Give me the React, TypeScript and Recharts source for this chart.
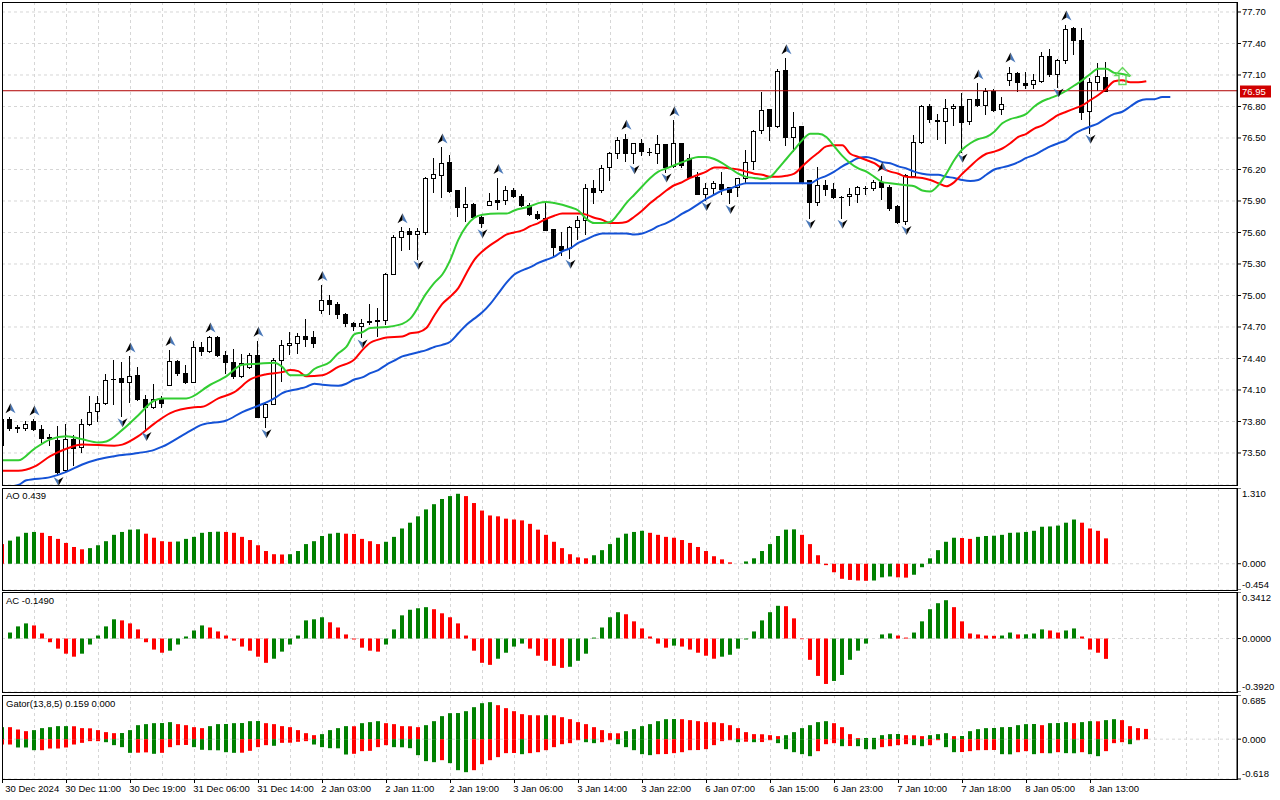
import React from "react";
import {
  ComposedChart,
  Bar,
  Line,
  Scatter,
  XAxis,
  YAxis,
  CartesianGrid,
  ReferenceLine,
} from "recharts";

/* Hourly candles with Alligator, Bill Williams fractals and AO / AC / Gator
 * panes underneath. */

const FONT = '"Liberation Sans", Arial, sans-serif';
const GRID = "#d6d6d6";
const UP_GREEN = "#008000";
const DOWN_RED = "#ff0000";

// ---- candles (bar index 0..138) ----
const opens = [
  73.58, 73.82, 73.74, 73.74, 73.8, 73.73, 73.65, 73.62, 73.34, 73.63,
  73.56, 73.78, 73.9, 73.98, 74.2, 74.21, 74.18, 74.24, 74.01, 73.94,
  74.01, 74.15, 74.38, 74.26, 74.18, 74.51, 74.47, 74.6, 74.43, 74.37,
  74.23, 74.32, 74.43, 73.84, 73.97, 74.39, 74.53, 74.55, 74.61, 74.6,
  74.86, 74.96, 74.92, 74.82, 74.74, 74.71, 74.75, 74.76, 74.77, 75.2,
  75.56, 75.61, 75.59, 75.6, 76.12, 76.15, 76.27, 76.0, 75.84, 75.87,
  75.75, 75.86, 75.91, 75.91, 76.0, 75.95, 75.86, 75.78, 75.74, 75.63,
  75.47, 75.45, 75.65, 75.72, 76.02, 76.0, 76.22, 76.36, 76.49, 76.36,
  76.45, 76.37, 76.36, 76.44, 76.23, 76.45, 76.31, 76.13, 75.97, 76.02,
  76.06, 76.03, 76.03, 76.12, 76.28, 76.58, 76.78, 76.61, 77.15, 76.51,
  76.61, 76.1, 75.89, 76.05, 76.01, 75.94, 75.95, 75.97, 76.02, 76.02,
  76.08, 76.03, 75.85, 75.71, 76.14, 76.46, 76.8, 76.67, 76.66, 76.79,
  76.8, 76.66, 76.87, 76.81, 76.95, 76.78, 77.05, 77.12, 77.02, 77.01,
  77.04, 77.28, 77.11, 77.24, 77.55, 77.43, 76.76, 77.03, 77.08,
];
const highs = [
  73.83, 73.84, 73.77, 73.8, 73.82, 73.77, 73.68, 73.76, 73.78, 73.67,
  73.82, 74.04, 74.04, 74.25, 74.39, 74.37, 74.42, 74.32, 74.05, 74.16,
  74.04, 74.48, 74.39, 74.34, 74.57, 74.56, 74.61, 74.61, 74.47, 74.49,
  74.44, 74.45, 74.57, 73.98, 74.4, 74.58, 74.655, 74.64, 74.78, 74.66,
  75.1, 75.0, 74.94, 74.83, 74.75, 74.78, 74.92, 74.88, 75.21, 75.575,
  75.65, 75.64, 75.64, 76.13, 76.31, 76.41, 76.34, 76.0, 76.03, 75.88,
  75.78, 75.98, 76.12, 76.04, 76.02, 75.97, 75.88, 75.8, 75.88, 75.63,
  75.6, 75.66, 75.76, 76.06, 76.1, 76.24, 76.37, 76.51, 76.54, 76.45,
  76.49, 76.4, 76.53, 76.44, 76.67, 76.45, 76.35, 76.18, 76.07, 76.09,
  76.18, 76.03, 76.12, 76.39, 76.58, 76.94, 76.78, 77.16, 77.26, 76.75,
  76.61, 76.1, 76.22, 76.1, 76.07, 75.95, 76.02, 76.04, 76.04, 76.1,
  76.14, 76.05, 75.86, 76.16, 76.53, 76.81, 76.82, 76.73, 76.87, 76.82,
  76.93, 76.87, 77.02, 76.98, 76.97, 76.89, 77.18, 77.13, 77.13, 77.11,
  77.32, 77.35, 77.25, 77.58, 77.56, 77.55, 77.07, 77.21, 77.22,
];
const lows = [
  73.55, 73.72, 73.7, 73.72, 73.72, 73.6, 73.58, 73.29, 73.32, 73.39,
  73.51, 73.77, 73.8, 73.97, 73.97, 73.85, 73.99, 74.0, 73.72, 73.93,
  73.94, 74.15, 74.24, 74.17, 74.18, 74.43, 74.46, 74.42, 74.26, 74.21,
  74.22, 74.31, 73.84, 73.745, 73.97, 74.19, 74.44, 74.45, 74.52, 74.51,
  74.83, 74.82, 74.79, 74.71, 74.67, 74.6, 74.73, 74.61, 74.73, 75.2,
  75.43, 75.44, 75.35, 75.59, 75.99, 75.94, 75.99, 75.76, 75.71, 75.74,
  75.65, 75.86, 75.82, 75.87, 75.94, 75.85, 75.77, 75.73, 75.62, 75.38,
  75.39, 75.36, 75.54, 75.59, 75.88, 75.99, 76.1, 76.31, 76.28, 76.26,
  76.34, 76.34, 76.26, 76.18, 76.22, 76.22, 76.12, 75.97, 75.91, 75.96,
  75.97, 75.88, 75.95, 76.07, 76.2, 76.55, 76.48, 76.6, 76.43, 76.38,
  76.07, 75.74, 75.86, 75.96, 75.93, 75.74, 75.86, 75.89, 75.97, 76.0,
  75.92, 75.81, 75.69, 75.68, 76.14, 76.45, 76.65, 76.49, 76.45, 76.62,
  76.37, 76.63, 76.8, 76.73, 76.76, 76.73, 77.0, 76.95, 76.98, 76.98,
  77.03, 77.09, 76.99, 77.21, 77.3, 76.68, 76.55, 76.96, 76.95,
];
const closes = [
  73.82, 73.735, 73.745, 73.78, 73.73, 73.64, 73.64, 73.32, 73.63, 73.545,
  73.78, 73.89, 73.98, 74.195, 74.2, 74.18, 74.23, 74.01, 73.935, 74.01,
  73.98, 74.38, 74.265, 74.18, 74.51, 74.47, 74.6, 74.43, 74.37, 74.23,
  74.36, 74.43, 73.84, 73.97, 74.39, 74.53, 74.55, 74.61, 74.59, 74.55,
  74.96, 74.92, 74.82, 74.735, 74.71, 74.74, 74.76, 74.77, 75.205, 75.56,
  75.61, 75.59, 75.61, 76.12, 76.16, 76.26, 75.998, 75.84, 75.87, 75.75,
  75.69, 75.9, 75.89, 76.0, 75.95, 75.86, 75.78, 75.74, 75.62, 75.465,
  75.43, 75.65, 75.72, 76.02, 75.99, 76.21, 76.36, 76.48, 76.36, 76.45,
  76.38, 76.37, 76.44, 76.22, 76.45, 76.24, 76.13, 75.97, 76.02, 76.07,
  76.01, 75.99, 76.12, 76.27, 76.57, 76.77, 76.61, 77.14, 76.51, 76.6,
  76.07, 75.89, 76.05, 76.01, 75.94, 75.94, 75.97, 76.03, 76.02, 76.08,
  76.03, 75.83, 75.7, 76.15, 76.46, 76.8, 76.68, 76.66, 76.79, 76.8,
  76.65, 76.87, 76.81, 76.95, 76.77, 76.82, 77.12, 77.03, 77.0, 77.05,
  77.28, 77.11, 77.24, 77.54, 77.43, 76.75, 77.03, 77.09, 76.95,
];

// ---- Alligator lines, [bar index, price] (shifted forward past the last bar) ----
const lipsPts: [number, number][] = [
  [0, 73.43], [2, 73.43], [4, 73.54], [6, 73.63], [8, 73.66], [10, 73.63], [12, 73.6], [13, 73.61],
  [15, 73.72], [17, 73.86], [19, 74.0], [20, 74.02], [23, 74.02], [26, 74.15], [28, 74.23], [30, 74.34],
  [32, 74.35], [34, 74.36], [35, 74.32], [36, 74.24], [38, 74.24], [39, 74.3], [41, 74.37], [42, 74.45],
  [43, 74.51], [44, 74.63], [45, 74.65], [46, 74.69], [48, 74.7], [50, 74.73], [51, 74.78], [53, 75.02],
  [54, 75.12], [55, 75.2], [56, 75.34], [57, 75.53], [58, 75.66], [59, 75.74], [60, 75.77], [62, 75.78],
  [63, 75.78], [64, 75.81], [66, 75.85], [67, 75.88], [68, 75.89], [69, 75.88], [71, 75.84], [72, 75.81],
  [73, 75.73], [74, 75.69], [75, 75.69], [76, 75.7], [77, 75.78], [78, 75.88], [79, 75.96], [80, 76.04],
  [81, 76.12], [82, 76.18], [83, 76.21], [84, 76.24], [85, 76.27], [86, 76.3], [87, 76.32], [88, 76.32],
  [89, 76.3], [90, 76.26], [91, 76.21], [92, 76.16], [93, 76.13], [94, 76.12], [95, 76.11], [96, 76.13],
  [97, 76.21], [98, 76.3], [99, 76.39], [100, 76.48], [101, 76.54], [102, 76.54], [103, 76.51], [104, 76.42],
  [105, 76.33], [106, 76.26], [107, 76.21], [108, 76.18], [109, 76.13], [110, 76.08], [111, 76.07], [112, 76.06],
  [113, 76.05], [114, 76.04], [115, 76.0], [116, 75.99], [117, 76.05], [118, 76.16], [119, 76.29], [120, 76.39],
  [121, 76.45], [122, 76.49], [123, 76.51], [124, 76.56], [125, 76.64], [126, 76.68], [127, 76.7], [128, 76.73],
  [129, 76.8], [130, 76.85], [131, 76.88], [132, 76.91], [133, 76.95], [134, 77.0], [135, 77.05], [136, 77.11],
  [137, 77.16], [138, 77.16], [139, 77.12], [140, 77.11], [141, 77.09],
];
const teethPts: [number, number][] = [
  [0, 73.33], [2, 73.33], [4, 73.37], [6, 73.47], [8, 73.54], [10, 73.58], [14, 73.57], [15, 73.58],
  [17, 73.66], [19, 73.78], [21, 73.88], [24, 73.935], [25, 73.94], [27, 74.02], [29, 74.08], [31, 74.2],
  [33, 74.25], [35, 74.27], [36, 74.29], [37, 74.28], [38, 74.23], [40, 74.24], [42, 74.32], [44, 74.39],
  [45, 74.48], [46, 74.55], [47, 74.58], [48, 74.6], [50, 74.61], [51, 74.64], [52, 74.65], [53, 74.69],
  [54, 74.81], [55, 74.92], [56, 74.99], [57, 75.07], [58, 75.21], [59, 75.34], [60, 75.42], [61, 75.48],
  [62, 75.53], [63, 75.58], [64, 75.6], [65, 75.62], [66, 75.66], [67, 75.69], [68, 75.73], [69, 75.76],
  [70, 75.78], [71, 75.78], [72, 75.78], [73, 75.77], [74, 75.74], [75, 75.72], [76, 75.69], [77, 75.69],
  [78, 75.7], [79, 75.75], [80, 75.81], [81, 75.88], [82, 75.94], [83, 76.0], [84, 76.05], [85, 76.08],
  [86, 76.12], [87, 76.15], [88, 76.18], [89, 76.22], [90, 76.22], [91, 76.21], [92, 76.2], [93, 76.18],
  [94, 76.16], [95, 76.15], [96, 76.13], [97, 76.13], [98, 76.14], [99, 76.16], [100, 76.23], [101, 76.3],
  [102, 76.36], [103, 76.42], [104, 76.43], [105, 76.43], [106, 76.35], [107, 76.32], [108, 76.29], [109, 76.26],
  [110, 76.21], [111, 76.18], [112, 76.16], [113, 76.13], [114, 76.125], [115, 76.12], [116, 76.1], [117, 76.07],
  [118, 76.04], [119, 76.08], [120, 76.16], [121, 76.23], [122, 76.3], [123, 76.35], [124, 76.37], [125, 76.4],
  [126, 76.45], [127, 76.51], [128, 76.54], [129, 76.59], [130, 76.62], [131, 76.67], [132, 76.72], [133, 76.75],
  [134, 76.78], [135, 76.81], [136, 76.86], [137, 76.91], [138, 76.97], [139, 77.04], [140, 77.05], [141, 77.03],
  [142, 77.03], [143, 77.04],
];
const jawPts: [number, number][] = [
  [0, 73.17], [2, 73.195], [3, 73.24], [6, 73.27], [8, 73.32], [10, 73.39], [12, 73.44], [14, 73.47],
  [17, 73.5], [19, 73.53], [20, 73.56], [23, 73.69], [25, 73.77], [28, 73.81], [30, 73.89], [32, 73.95],
  [34, 74.02], [35, 74.07], [37, 74.11], [38, 74.13], [39, 74.16], [40, 74.15], [42, 74.14], [43, 74.16],
  [44, 74.2], [45, 74.22], [46, 74.26], [47, 74.29], [48, 74.34], [49, 74.38], [50, 74.42], [51, 74.44],
  [52, 74.46], [53, 74.48], [54, 74.51], [55, 74.53], [56, 74.56], [57, 74.64], [58, 74.72], [59, 74.78],
  [60, 74.84], [61, 74.92], [62, 75.02], [63, 75.12], [64, 75.2], [65, 75.24], [66, 75.27], [67, 75.31],
  [68, 75.34], [69, 75.37], [70, 75.42], [71, 75.45], [72, 75.5], [73, 75.535], [74, 75.57], [75, 75.59],
  [76, 75.59], [78, 75.59], [79, 75.58], [80, 75.59], [81, 75.62], [82, 75.66], [83, 75.69], [84, 75.73],
  [85, 75.78], [86, 75.82], [87, 75.87], [88, 75.92], [89, 75.96], [90, 76.0], [91, 76.02], [92, 76.05],
  [93, 76.07], [94, 76.07], [97, 76.07], [101, 76.07], [102, 76.11], [103, 76.14], [104, 76.18], [105, 76.23],
  [106, 76.27], [107, 76.31], [108, 76.32], [109, 76.3], [110, 76.27], [111, 76.26], [112, 76.23], [113, 76.21],
  [114, 76.18], [115, 76.16], [116, 76.15], [117, 76.15], [118, 76.13], [119, 76.12], [120, 76.1], [121, 76.09],
  [122, 76.1], [123, 76.15], [124, 76.2], [125, 76.22], [126, 76.24], [127, 76.27], [128, 76.31], [129, 76.34],
  [130, 76.38], [131, 76.42], [132, 76.45], [133, 76.48], [134, 76.54], [135, 76.58], [136, 76.61], [137, 76.64],
  [138, 76.69], [139, 76.73], [140, 76.75], [141, 76.8], [142, 76.85], [143, 76.87], [144, 76.87], [145, 76.89],
  [146, 76.89],
];

// ---- fractals (bar indices) and the signal arrow ----
const fractalUp = [1, 4, 16, 21, 26, 32, 40, 50, 55, 62, 78, 84, 98, 110, 122, 126, 133];
const fractalDown = [7, 15, 18, 33, 45, 52, 60, 71, 79, 83, 88, 91, 101, 105, 113, 120, 132, 136];
const signalArrows = [{ i: 140, price: 77.01 }];
const lastPrice = 76.95;

// ---- Awesome Oscillator ----
const aoValues = [
  0.34, 0.4, 0.47, 0.535, 0.55, 0.535, 0.48, 0.43, 0.36, 0.29,
  0.25, 0.27, 0.32, 0.39, 0.5, 0.55, 0.59, 0.595, 0.52, 0.45,
  0.39, 0.38, 0.385, 0.43, 0.465, 0.535, 0.55, 0.555, 0.55, 0.535,
  0.465, 0.41, 0.32, 0.22, 0.165, 0.16, 0.165, 0.22, 0.34, 0.39,
  0.48, 0.52, 0.535, 0.52, 0.515, 0.43, 0.39, 0.34, 0.38, 0.465,
  0.61, 0.71, 0.82, 0.94, 1.03, 1.12, 1.17, 1.21, 1.17, 1.05,
  0.92, 0.835, 0.82, 0.78, 0.765, 0.75, 0.69, 0.59, 0.5, 0.38,
  0.27, 0.165, 0.11, 0.094, 0.147, 0.235, 0.34, 0.45, 0.52, 0.55,
  0.57, 0.535, 0.5, 0.465, 0.45, 0.41, 0.36, 0.29, 0.22, 0.13,
  0.076, 0.024, 0.006, 0.04, 0.094, 0.22, 0.34, 0.48, 0.59, 0.595,
  0.5, 0.34, 0.147, -0.024, -0.147, -0.26, -0.28, -0.29, -0.295, -0.29,
  -0.235, -0.22, -0.235, -0.24, -0.19, -0.06, 0.094, 0.235, 0.38, 0.45,
  0.445, 0.43, 0.465, 0.48, 0.485, 0.5, 0.535, 0.54, 0.55, 0.57,
  0.64, 0.645, 0.66, 0.71, 0.765, 0.71, 0.61, 0.57, 0.439,
];
const aoColors =
  "r gggg rrrrrr ggggggg rrrr gggggg rrrrrrrr ggggggg rrrrr gggggggggg rrrrrrrrrrrrrrrr ggggggg rrrrrrrrrrrr ggggggg rrrrrrrrr ggg rr gggggg rr ggggggggggggg rrrr";

// ---- Accelerator Oscillator ----
const acValues = [
  -0.003, 0.044, 0.089, 0.111, 0.096, 0.037, -0.027, -0.074, -0.111, -0.133,
  -0.111, -0.044, 0.022, 0.089, 0.141, 0.133, 0.111, 0.067, -0.027, -0.081,
  -0.104, -0.089, -0.044, 0.015, 0.059, 0.096, 0.081, 0.052, 0.022, -0.015,
  -0.059, -0.089, -0.133, -0.178, -0.148, -0.096, -0.044, 0.022, 0.133, 0.141,
  0.156, 0.119, 0.081, 0.03, -0.007, -0.067, -0.089, -0.096, -0.044, 0.067,
  0.17, 0.211, 0.222, 0.23, 0.215, 0.185, 0.156, 0.111, 0.022, -0.089,
  -0.178, -0.193, -0.148, -0.104, -0.059, -0.037, -0.074, -0.126, -0.163, -0.2,
  -0.215, -0.207, -0.163, -0.111, 0.007, 0.081, 0.156, 0.193, 0.178, 0.126,
  0.074, 0.015, -0.037, -0.067, -0.052, -0.059, -0.081, -0.104, -0.126, -0.148,
  -0.133, -0.119, -0.074, -0.007, 0.052, 0.133, 0.193, 0.24, 0.237, 0.148,
  -0.005, -0.156, -0.274, -0.333, -0.311, -0.267, -0.156, -0.089, -0.037, 0.003,
  0.03, 0.037, 0.022, 0.007, 0.044, 0.126, 0.215, 0.259, 0.281, 0.23,
  0.126, 0.037, 0.03, 0.022, 0.02, 0.022, 0.044, 0.03, 0.031, 0.037,
  0.067, 0.059, 0.044, 0.059, 0.074, 0.015, -0.081, -0.104, -0.149,
];
const acColors =
  "r ggg rrrrrr ggggg rrrrrr ggggg rrrrrrrr ggggggg rrrrrrr gggggg rrrrrrrr gggg rrrrr ggggggg rrrrrr g rrrrr gggggggg rrrrrr gggggggg rr ggggg rrrrrr gg r ggg rr gg rrrr";

// ---- Gator oscillator (upper = |jaw-teeth|, lower = -|teeth-lips|) ----
const gatorUp = [
  0.186, 0.186, 0.15, 0.124, 0.14, 0.171, 0.186, 0.202, 0.202, 0.2,
  0.171, 0.168, 0.14, 0.109, 0.093, 0.095, 0.14, 0.217, 0.233, 0.248,
  0.25, 0.264, 0.233, 0.217, 0.186, 0.171, 0.202, 0.233, 0.235, 0.248,
  0.25, 0.279, 0.281, 0.248, 0.233, 0.202, 0.186, 0.14, 0.093, 0.062,
  0.078, 0.14, 0.171, 0.202, 0.2, 0.248, 0.264, 0.279, 0.248, 0.233,
  0.202, 0.2, 0.186, 0.217, 0.279, 0.357, 0.403, 0.405, 0.434, 0.496,
  0.558, 0.574, 0.527, 0.481, 0.434, 0.388, 0.372, 0.37, 0.372, 0.37,
  0.341, 0.31, 0.264, 0.233, 0.186, 0.14, 0.093, 0.091, 0.124, 0.155,
  0.202, 0.233, 0.279, 0.31, 0.312, 0.31, 0.295, 0.279, 0.264, 0.262,
  0.248, 0.217, 0.171, 0.109, 0.078, 0.076, 0.062, 0.047, 0.062, 0.109,
  0.171, 0.217, 0.264, 0.279, 0.248, 0.186, 0.078, 0.016, 0.018, 0.02,
  0.062, 0.078, 0.08, 0.062, 0.06, 0.047, 0.062, 0.078, 0.093, 0.047,
  0.049, 0.124, 0.155, 0.171, 0.173, 0.186, 0.188, 0.217, 0.233, 0.235,
  0.217, 0.248, 0.25, 0.264, 0.248, 0.264, 0.279, 0.277, 0.295, 0.31,
  0.295, 0.202, 0.171, 0.159,
];
const gatorUpColors =
  "g rrr ggggg rrrrrr ggggggg rrrr ggggggg rrrrrrr gggg r ggg rrrrr ggggggggg rrrrrr g rrrrrrrrr ggggggg rrrrrrrrrrrrr gggggg rrrr ggggg rrr ggg r gggggggggg r ggg r gg r gg rrrr";
const gatorDown = [
  -0.083, -0.083, -0.129, -0.129, -0.171, -0.171, -0.145, -0.145, -0.129, -0.083,
  -0.057, -0.031, -0.031, -0.047, -0.093, -0.124, -0.212, -0.21, -0.205, -0.227,
  -0.212, -0.124, -0.093, -0.09, -0.124, -0.165, -0.171, -0.173, -0.202, -0.212,
  -0.21, -0.181, -0.124, -0.093, -0.103, -0.057, -0.055, -0.041, -0.031, -0.083,
  -0.124, -0.14, -0.142, -0.238, -0.227, -0.186, -0.181, -0.124, -0.093, -0.124,
  -0.126, -0.14, -0.248, -0.341, -0.357, -0.326, -0.372, -0.481, -0.512, -0.481,
  -0.388, -0.326, -0.279, -0.217, -0.215, -0.233, -0.217, -0.202, -0.171, -0.124,
  -0.078, -0.062, -0.016, -0.047, -0.062, -0.047, -0.016, -0.078, -0.124, -0.171,
  -0.233, -0.248, -0.233, -0.231, -0.217, -0.202, -0.171, -0.169, -0.155, -0.093,
  -0.031, -0.016, -0.047, -0.04, -0.047, -0.045, -0.016, -0.062, -0.155, -0.202,
  -0.233, -0.264, -0.186, -0.078, -0.062, -0.109, -0.107, -0.109, -0.155, -0.157,
  -0.124, -0.109, -0.093, -0.078, -0.093, -0.109, -0.093, -0.016, -0.124, -0.202,
  -0.2, -0.186, -0.171, -0.17, -0.168, -0.233, -0.235, -0.202, -0.186, -0.233,
  -0.217, -0.219, -0.202, -0.217, -0.219, -0.202, -0.233, -0.264, -0.186, -0.062,
  -0.047, -0.078, -0.016, 0,
];
const gatorDownColors =
  "rr ggg rrrrrrrr gggg rr g rrrr gggggg rrrr g rrrr ggggg rrrrr gggggg r ggg rrrrrr g rrrrrrr gg rr ggggg rrrrrrrrrr g r g rr ggggg rrr g r ggg rrrr gg rr gg rrrrr gg rr g r g r gg r gg rrr g rr";

// ---- axes ----
const timeLabels = [
  "30 Dec 2024", "30 Dec 11:00", "30 Dec 19:00", "31 Dec 06:00", "31 Dec 14:00",
  "2 Jan 03:00", "2 Jan 11:00", "2 Jan 19:00", "3 Jan 06:00", "3 Jan 14:00",
  "3 Jan 22:00", "6 Jan 07:00", "6 Jan 15:00", "6 Jan 23:00", "7 Jan 10:00",
  "7 Jan 18:00", "8 Jan 05:00", "8 Jan 13:00",
];
const priceTicks = [73.5, 73.8, 74.1, 74.4, 74.7, 75.0, 75.3, 75.6, 75.9, 76.2, 76.5, 76.8, 77.1, 77.4, 77.7];
const aoTicks = [-0.454, 0, 1.31];
const acTicks = [-0.392, 0, 0.3412];
const gatorTicks = [-0.618, 0, 0.685];

// one grid column every 4 bars, a time label every 8
const gridTicks = Array.from({ length: 39 }, (_, k) => k * 4);
const X_DOMAIN: [number, number] = [-0.0375, 154.3375];
const PRICE_DOMAIN: [number, number] = [73.1952, 77.7952];

const colorsOf = (s: string) =>
  s.replace(/\s/g, "").split("").map((c) => (c === "g" ? UP_GREEN : DOWN_RED));
const aoFill = colorsOf(aoColors);
const acFill = colorsOf(acColors);
const gUpFill = colorsOf(gatorUpColors);
const gDnFill = colorsOf(gatorDownColors);

const lipsMap = new Map(lipsPts);
const teethMap = new Map(teethPts);
const jawMap = new Map(jawPts);

const mainRows = Array.from({ length: 147 }, (_, i) => ({
  i,
  open: opens[i] ?? null,
  high: highs[i] ?? null,
  low: lows[i] ?? null,
  close: closes[i] ?? null,
  lips: lipsMap.get(i) ?? null,
  teeth: teethMap.get(i) ?? null,
  jaw: jawMap.get(i) ?? null,
}));
const upRows = fractalUp.map((i) => ({ i, price: highs[i] }));
const downRows = fractalDown.map((i) => ({ i, price: lows[i] }));
const aoRows = aoValues.map((v, i) => ({ i, v, fill: aoFill[i] }));
const acRows = acValues.map((v, i) => ({ i, v, fill: acFill[i] }));
const gatorRows = gatorUp.map((u, i) => ({
  i,
  up: u,
  dn: gatorDown[i],
  upFill: gUpFill[i],
  dnFill: gDnFill[i],
}));

const candleRange = (d: any) => (d.open == null ? null : [d.low, d.high]);

// vertical grid lines at the x-axis grid ticks, placed with the axis scale
const gridColumns = (args: any) => {
  const { xAxis, offset } = args || {};
  if (xAxis && typeof xAxis.scale === "function") {
    return gridTicks.map((t) => Math.floor(xAxis.scale(t)) + 0.5);
  }
  const left = offset?.left ?? 2;
  const w = offset?.width ?? 1235;
  return gridTicks.map(
    (t) => Math.floor(left + ((t - X_DOMAIN[0]) * w) / (X_DOMAIN[1] - X_DOMAIN[0])) + 0.5
  );
};

function Candle(props: any) {
  const { x, y, width, height, payload } = props;
  if (!payload || payload.open == null) return null;
  if (![x, y, width, height].every(Number.isFinite)) return null;
  const { open, high, low, close } = payload;
  const top = Math.min(y, y + height);
  const k = high > low ? Math.abs(height) / (high - low) : 0;
  const py = (v: number) => top + (high - v) * k;
  const cx = Math.floor(x + width / 2) + 0.5;
  const bTop = Math.round(py(Math.max(open, close))) + 0.5;
  const bBot = Math.round(py(Math.min(open, close))) + 0.5;
  const bull = close >= open;
  return (
    <g>
      <line x1={cx} x2={cx} y1={Math.round(py(high))} y2={Math.round(py(low)) + 1} stroke="#000" />
      {bBot - bTop < 1 ? (
        <line x1={cx - 2.5} x2={cx + 2.5} y1={bTop} y2={bTop} stroke="#000" />
      ) : (
        <rect x={cx - 2} y={bTop} width={4} height={bBot - bTop} fill={bull ? "#fff" : "#000"} stroke="#000" />
      )}
    </g>
  );
}

function HistBar(props: any) {
  const { x, y, width, height, color } = props;
  if (![x, y, width, height].every(Number.isFinite)) return null;
  const h = Math.abs(height);
  if (h < 0.5) return null;
  return <rect x={Math.round(x)} y={Math.min(y, y + height)} width={4} height={h} fill={color} />;
}

function UpFractal({ cx, cy }: any) {
  if (!Number.isFinite(cx) || !Number.isFinite(cy)) return null;
  const x = Math.round(cx) + 0.5;
  return (
    <g>
      <path d={`M${x},${cy - 14} L${x + 5},${cy - 4} L${x},${cy - 7} Z`} fill="#4a78b8" />
      <path d={`M${x},${cy - 14} L${x - 5},${cy - 4} L${x},${cy - 7} Z`} fill="#000" />
    </g>
  );
}

function DownFractal({ cx, cy }: any) {
  if (!Number.isFinite(cx) || !Number.isFinite(cy)) return null;
  const x = Math.round(cx) + 0.5;
  return (
    <g>
      <path d={`M${x},${cy + 11} L${x - 5},${cy + 2} L${x},${cy + 5} Z`} fill="#4a78b8" />
      <path d={`M${x},${cy + 11} L${x + 5},${cy + 2} L${x},${cy + 5} Z`} fill="#000" />
    </g>
  );
}

function SignalArrow({ cx, cy }: any) {
  if (!Number.isFinite(cx) || !Number.isFinite(cy)) return null;
  const x = Math.round(cx) + 0.5;
  const d = `M${x - 3.5},${cy} L${x - 3.5},${cy - 9} L${x - 7.5},${cy - 9} L${x},${cy - 17} L${x + 7.5},${cy - 9} L${x + 3.5},${cy - 9} L${x + 3.5},${cy} Z`;
  return <path d={d} fill="none" stroke="#63d85a" strokeWidth={1.4} />;
}

function PriceTick(props: any) {
  const { x, y, payload } = props;
  return (
    <text x={x} y={y} dy={3.5} fontSize={9.5} fontFamily={FONT} fill="#000" textAnchor="start">
      {payload.value.toFixed(2)}
    </text>
  );
}

const sideTick = (h: number, digits: number) => (props: any) => {
  const { x, y, payload } = props;
  const ty = Math.min(Math.max(y, 5), h - 5.5);
  return (
    <text x={x} y={ty} dy={3.5} fontSize={9.5} fontFamily={FONT} fill="#000" textAnchor="start">
      {payload.value.toFixed(digits)}
    </text>
  );
};

const GATOR_PLOT_H = 84;

function TimeTick(props: any) {
  const { x, payload } = props;
  const v = payload.value;
  if (v % 8 !== 0 || !timeLabels[v / 8]) return null;
  const lx = Math.floor(x) + 0.5;
  return (
    <g>
      <line x1={lx} x2={lx} y1={GATOR_PLOT_H} y2={GATOR_PLOT_H + 4} stroke="#000" />
      <text x={v === 0 ? x + 3 : x - 1} y={GATOR_PLOT_H + 13} fontSize={9.5} fontFamily={FONT} fill="#000" textAnchor="start">
        {timeLabels[v / 8]}
      </text>
    </g>
  );
}

function PriceTag(props: any) {
  const vb = props.viewBox;
  if (!vb) return null;
  const x = vb.x + vb.width + 3;
  const y = Math.round(vb.y);
  return (
    <g>
      <rect x={x} y={y - 5.5} width={31} height={12} fill="#d00000" />
      <text x={x + 2} y={y + 4} fontSize={9.5} fontFamily={FONT} fill="#fff">
        {lastPrice.toFixed(2)}
      </text>
    </g>
  );
}

const chartMargin = { top: 0, right: 0, bottom: 0, left: 2 };

const grid = (
  <CartesianGrid stroke={GRID} strokeDasharray="3 3" verticalCoordinatesGenerator={gridColumns} />
);

const hiddenX = (
  <XAxis
    type="number"
    dataKey="i"
    domain={X_DOMAIN}
    ticks={gridTicks}
    interval={0}
    allowDataOverflow
    height={0}
    tick={false}
    axisLine={false}
    tickLine={false}
  />
);

const frame = (top: number, height: number): React.CSSProperties => ({
  position: "absolute",
  left: 2,
  top,
  width: 1236,
  height,
  border: "1px solid #000",
  boxSizing: "border-box",
  pointerEvents: "none",
});

const legend = (top: number): React.CSSProperties => ({
  position: "absolute",
  left: 6,
  top,
  fontSize: 9.5,
  fontFamily: FONT,
  color: "#000",
  lineHeight: "11px",
  whiteSpace: "nowrap",
});

export default function App() {
  return (
    <div style={{ position: "absolute", left: 0, top: 0, width: 1280, height: 800, background: "#fff", overflow: "hidden" }}>
      {/* price pane */}
      <div style={{ position: "absolute", left: 0, top: 2 }}>
        <ComposedChart width={1280} height={483} data={mainRows} margin={chartMargin}>
          {grid}
          {hiddenX}
          <YAxis
            orientation="right"
            type="number"
            domain={PRICE_DOMAIN}
            allowDataOverflow
            ticks={priceTicks}
            interval={0}
            width={43}
            tickSize={4}
            tickMargin={1}
            tickLine={{ stroke: "#000" }}
            axisLine={{ stroke: "#000" }}
            tick={<PriceTick />}
          />
          <ReferenceLine y={lastPrice} stroke="#b00000" strokeWidth={1} label={<PriceTag />} />
          <Bar dataKey={candleRange} barSize={5} isAnimationActive={false} shape={(p: any) => <Candle {...p} />} />
          <Line type="monotone" dataKey="jaw" stroke="#1452d6" strokeWidth={2} dot={false} activeDot={false} connectNulls isAnimationActive={false} />
          <Line type="monotone" dataKey="teeth" stroke="#ff0000" strokeWidth={2} dot={false} activeDot={false} connectNulls isAnimationActive={false} />
          <Line type="monotone" dataKey="lips" stroke="#32cd32" strokeWidth={2} dot={false} activeDot={false} connectNulls isAnimationActive={false} />
          <Scatter data={upRows} dataKey="price" isAnimationActive={false} shape={(p: any) => <UpFractal {...p} />} />
          <Scatter data={downRows} dataKey="price" isAnimationActive={false} shape={(p: any) => <DownFractal {...p} />} />
          <Scatter data={signalArrows} dataKey="price" isAnimationActive={false} shape={(p: any) => <SignalArrow {...p} />} />
        </ComposedChart>
      </div>

      {/* AO pane */}
      <div style={{ position: "absolute", left: 0, top: 488 }}>
        <ComposedChart width={1280} height={102} data={aoRows} margin={chartMargin}>
          {grid}
          {hiddenX}
          <YAxis
            orientation="right"
            type="number"
            domain={[-0.454, 1.31]}
            allowDataOverflow
            ticks={aoTicks}
            interval={0}
            width={43}
            tickSize={4}
            tickMargin={1}
            tickLine={{ stroke: "#000" }}
            axisLine={{ stroke: "#000" }}
            tick={sideTick(102, 3)}
          />
          <Bar dataKey="v" barSize={4} isAnimationActive={false} shape={(p: any) => <HistBar {...p} color={p.payload.fill} />} />
        </ComposedChart>
      </div>

      {/* AC pane */}
      <div style={{ position: "absolute", left: 0, top: 592 }}>
        <ComposedChart width={1280} height={100} data={acRows} margin={chartMargin}>
          {grid}
          {hiddenX}
          <YAxis
            orientation="right"
            type="number"
            domain={[-0.392, 0.3412]}
            allowDataOverflow
            ticks={acTicks}
            interval={0}
            width={43}
            tickSize={4}
            tickMargin={1}
            tickLine={{ stroke: "#000" }}
            axisLine={{ stroke: "#000" }}
            tick={sideTick(100, 4)}
          />
          <Bar dataKey="v" barSize={4} isAnimationActive={false} shape={(p: any) => <HistBar {...p} color={p.payload.fill} />} />
        </ComposedChart>
      </div>

      {/* Gator pane + time axis */}
      <div style={{ position: "absolute", left: 0, top: 695 }}>
        <ComposedChart width={1280} height={105} data={gatorRows} margin={chartMargin} stackOffset="sign">
          {grid}
          <XAxis
            type="number"
            dataKey="i"
            domain={X_DOMAIN}
            ticks={gridTicks}
            interval={0}
            allowDataOverflow
            height={21}
            axisLine={false}
            tickLine={false}
            tick={<TimeTick />}
          />
          <YAxis
            orientation="right"
            type="number"
            domain={[-0.618, 0.685]}
            allowDataOverflow
            ticks={gatorTicks}
            interval={0}
            width={43}
            tickSize={4}
            tickMargin={1}
            tickLine={{ stroke: "#000" }}
            axisLine={{ stroke: "#000" }}
            tick={sideTick(GATOR_PLOT_H, 3)}
          />
          <Bar dataKey="up" stackId="gator" barSize={4} isAnimationActive={false} shape={(p: any) => <HistBar {...p} color={p.payload.upFill} />} />
          <Bar dataKey="dn" stackId="gator" barSize={4} isAnimationActive={false} shape={(p: any) => <HistBar {...p} color={p.payload.dnFill} />} />
        </ComposedChart>
      </div>

      {/* pane frames */}
      <div style={frame(2, 484)} />
      <div style={frame(488, 103)} />
      <div style={frame(592, 101)} />
      <div style={frame(695, 85)} />

      <div style={legend(490)}>AO 0.439</div>
      <div style={legend(595)}>AC -0.1490</div>
      <div style={legend(698)}>Gator(13,8,5) 0.159 0.000</div>
    </div>
  );
}
